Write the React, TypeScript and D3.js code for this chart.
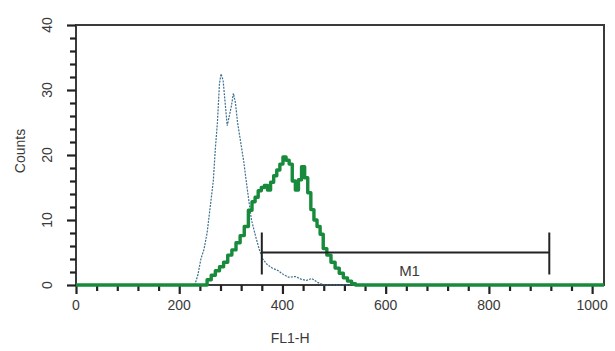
import React, { useEffect, useRef } from "react";
import * as d3 from "d3";

// control histogram (thin dotted blue)
const controlChannels = [0, 230, 236, 242, 248, 254, 260, 266, 270, 274, 278, 281, 285, 289, 293, 297, 301, 305, 309, 313, 317, 321, 325, 329, 334, 340, 348, 355, 362, 370, 380, 392, 402, 412, 425, 436, 446, 457, 468, 480, 1023];
const controlCounts = [0, 0, 1.5, 4, 5.5, 8, 12, 16, 21, 25, 31, 32.5, 31.5, 28, 24.5, 26, 27.5, 29.5, 28, 25, 23, 21, 19, 16.5, 13.5, 10, 7.5, 5.5, 4, 3.2, 2.6, 2.2, 1.6, 1.2, 1.3, 0.9, 0.7, 1, 0.4, 0, 0];

// stained histogram (thick green)
const stainedChannels = [0, 250, 258, 266, 274, 282, 290, 298, 306, 314, 322, 330, 338, 344, 350, 356, 362, 368, 374, 380, 386, 392, 398, 404, 410, 416, 422, 428, 434, 440, 446, 452, 458, 464, 470, 476, 482, 490, 498, 506, 514, 522, 530, 538, 545, 1023];
const stainedCounts = [0, 0, 0.8, 1.5, 2.2, 2.8, 3.5, 4.6, 5.4, 6.5, 7.6, 9, 11.5, 12.8, 13.5, 14.5, 15, 15.3, 14.6, 15.8, 16.8, 17.7, 18.6, 19.7, 19.2, 18.6, 16, 14.6, 16.2, 18.2, 16.5, 14.2, 11.6, 10, 9, 7.8, 5.6, 4.6, 3.5, 2.6, 1.8, 1.1, 0.6, 0.2, 0, 0];

const xTicks = [0, 200, 400, 600, 800, 1000];
const yTicks = [0, 10, 20, 30, 40];

// marker M1
const markerName = "M1";
const markerRange = [360, 917];
const markerLevel = 5;

const W = 615;
const H = 351;
const margin = { top: 25, right: 11, bottom: 66, left: 76 };

const App = () => {
  const ref = useRef<SVGSVGElement>(null);

  useEffect(() => {
    const svg = d3.select(ref.current);
    svg.selectAll("*").remove();

    const width = W - margin.left - margin.right;
    const height = H - margin.top - margin.bottom;

    const x = d3.scaleLinear().domain([0, 1023]).range([0, width]);
    const y = d3.scaleLinear().domain([0, 40]).range([height, 0]);

    const g = svg
      .append("g")
      .attr("transform", "translate(" + margin.left + "," + margin.top + ")");

    const ink = "#3a3a3a";
    const font = "'Liberation Sans', Arial, sans-serif";

    // frame
    g.append("rect")
      .attr("x", 0)
      .attr("y", 0)
      .attr("width", width)
      .attr("height", height)
      .attr("fill", "none")
      .attr("stroke", ink)
      .attr("stroke-width", 2);

    // x axis with minor ticks every 40
    const xAxis = g
      .append("g")
      .attr("transform", "translate(0," + height + ")")
      .call(
        d3
          .axisBottom(x)
          .tickValues(d3.range(0, 1024, 40))
          .tickSize(6)
          .tickFormat(() => "")
      );
    xAxis.select(".domain").remove();
    xAxis.selectAll(".tick line").attr("stroke", "#222").attr("stroke-width", 2.2);
    xAxis
      .selectAll(".tick")
      .filter((d: any) => d % 200 === 0)
      .select("line")
      .attr("y2", 9);
    xAxis
      .selectAll(".lbl")
      .data(xTicks)
      .enter()
      .append("text")
      .attr("class", "lbl")
      .attr("x", (d) => x(d))
      .attr("y", 25)
      .attr("text-anchor", "middle")
      .style("font-family", font)
      .style("font-size", "14px")
      .attr("fill", ink)
      .text((d) => d);

    // y axis with minor ticks every 2
    const yAxis = g.append("g").call(
      d3
        .axisLeft(y)
        .tickValues(d3.range(0, 41, 2))
        .tickSize(6)
        .tickFormat(() => "")
    );
    yAxis.select(".domain").remove();
    yAxis.selectAll(".tick line").attr("stroke", "#222").attr("stroke-width", 2.2);
    yAxis
      .selectAll(".tick")
      .filter((d: any) => d % 10 === 0)
      .select("line")
      .attr("x2", -9);
    yAxis
      .selectAll(".lbl")
      .data(yTicks)
      .enter()
      .append("text")
      .attr("class", "lbl")
      .attr("transform", (d) => "translate(-24," + y(d) + ") rotate(-90)")
      .attr("text-anchor", "middle")
      .style("font-family", font)
      .style("font-size", "14px")
      .attr("fill", ink)
      .text((d) => d);

    // axis titles
    g.append("text")
      .attr("transform", "translate(-51," + (height / 2 - 4) + ") rotate(-90)")
      .attr("text-anchor", "middle")
      .style("font-family", font)
      .style("font-size", "14px")
      .attr("fill", ink)
      .text("Counts");
    g.append("text")
      .attr("x", x(415))
      .attr("y", height + 58)
      .attr("text-anchor", "middle")
      .style("font-family", font)
      .style("font-size", "14px")
      .attr("fill", ink)
      .text("FL1-H");

    // control histogram
    const controlPts: [number, number][] = controlChannels.map((c, i) => [x(c), y(controlCounts[i])]);
    g.append("path")
      .attr("d", d3.line()(controlPts))
      .attr("fill", "none")
      .attr("stroke", "#3d6f8e")
      .attr("stroke-width", 1.2)
      .attr("stroke-dasharray", "2,1.2");

    // stained histogram
    const stainedPts: [number, number][] = stainedChannels.map((c, i) => [x(c), y(stainedCounts[i])]);
    g.append("path")
      .attr("d", d3.line().curve(d3.curveStep)(stainedPts))
      .attr("fill", "none")
      .attr("stroke", "#178a3c")
      .attr("stroke-width", 3.4)
      .attr("stroke-linejoin", "round");

    // marker
    const my = y(markerLevel);
    g.append("line")
      .attr("x1", x(markerRange[0]))
      .attr("x2", x(markerRange[1]))
      .attr("y1", my)
      .attr("y2", my)
      .attr("stroke", "#222")
      .attr("stroke-width", 2);
    g.selectAll(".mbar")
      .data(markerRange)
      .enter()
      .append("line")
      .attr("class", "mbar")
      .attr("x1", (d) => x(d))
      .attr("x2", (d) => x(d))
      .attr("y1", my - 20)
      .attr("y2", my + 22)
      .attr("stroke", "#222")
      .attr("stroke-width", 2);
    g.append("text")
      .attr("x", x((markerRange[0] + markerRange[1]) / 2) + 4)
      .attr("y", my + 23)
      .attr("text-anchor", "middle")
      .style("font-family", font)
      .style("font-size", "15px")
      .attr("fill", ink)
      .text(markerName);
  }, []);

  return (
    <svg
      ref={ref}
      width={W}
      height={H}
      style={{ position: "absolute", left: 0, top: 0, background: "#fff" }}
    />
  );
};

export default App;
